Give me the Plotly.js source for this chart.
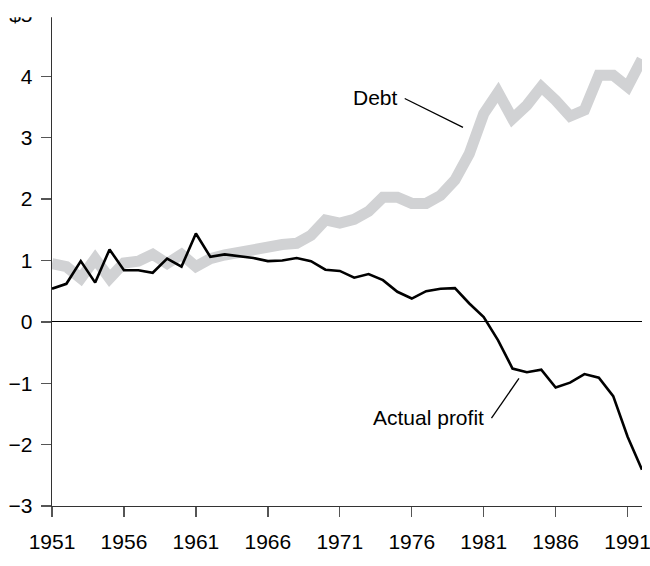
<!DOCTYPE html>
<html>
<head>
<meta charset="utf-8">
<script src="https://cdn.plot.ly/plotly-3.0.1.min.js"></script>
<style>
html, body { margin: 0; padding: 0; background: #ffffff; }
#chart { width: 650px; height: 566px; }
</style>
</head>
<body>
<div id="chart"></div>
<script>
// ---- data ----
var years = [];
for (var yr = 1951; yr <= 1992; yr++) years.push(yr);

var debt = [0.95, 0.90, 0.71, 1.03, 0.71, 0.96, 0.99, 1.10, 0.95, 1.10,
            0.90, 1.03, 1.09, 1.14, 1.17, 1.22, 1.26, 1.28, 1.41, 1.66,
            1.61, 1.67, 1.80, 2.03, 2.03, 1.93, 1.93, 2.06, 2.31, 2.74,
            3.39, 3.74, 3.31, 3.53, 3.83, 3.61, 3.35, 3.45, 4.02, 4.02,
            3.83, 4.28];

var profit = [0.54, 0.62, 0.99, 0.64, 1.18, 0.84, 0.84, 0.80, 1.03, 0.90,
              1.44, 1.06, 1.10, 1.07, 1.04, 0.99, 1.00, 1.04, 0.99, 0.85,
              0.83, 0.72, 0.78, 0.68, 0.49, 0.38, 0.50, 0.54, 0.55, 0.30,
              0.08, -0.30, -0.76, -0.82, -0.78, -1.07, -0.99, -0.85, -0.91, -1.21,
              -1.87, -2.41];

var xTickVals = [1951, 1956, 1961, 1966, 1971, 1976, 1981, 1986, 1991];
var xTickText = ["1951", "1956", "1961", "1966", "1971", "1976", "1981", "1986", "1991"];
var yTickVals = [-3, -2, -1, 0, 1, 2, 3, 4, 5];
var yTickText = ["\u22123", "\u22122", "\u22121", "0", "1", "2", "3", "4", "$5"];

var seriesLabels = ["Debt", "Actual profit"];

// ---- chart ----
var FONT = '"Liberation Sans", Arial, Helvetica, sans-serif';
var FS = 21;

var traces = [
  {
    x: years, y: debt, type: 'scatter', mode: 'lines', name: seriesLabels[0],
    line: { color: 'rgb(209,210,212)', width: 11 },
    hoverinfo: 'skip'
  },
  {
    x: years, y: profit, type: 'scatter', mode: 'lines', name: seriesLabels[1],
    line: { color: '#000000', width: 2.6 },
    hoverinfo: 'skip'
  }
];

var layout = {
  width: 650, height: 566,
  margin: { l: 52, r: 8, t: 15, b: 60, pad: 0 },
  paper_bgcolor: '#ffffff', plot_bgcolor: '#ffffff',
  showlegend: false,
  font: { family: FONT, size: FS, color: '#000000' },
  xaxis: {
    range: [1951, 1992],
    tickvals: xTickVals, ticktext: xTickText,
    ticks: 'outside', ticklen: 10, tickwidth: 1.3, tickcolor: '#555555',
    ticklabelstandoff: 6,
    ticklabeloverflow: 'allow',
    showline: true, linecolor: '#333333', linewidth: 1.3,
    showgrid: false, zeroline: false,
    tickfont: { family: FONT, size: FS, color: '#000000' },
    fixedrange: true
  },
  yaxis: {
    range: [-3, 5],
    tickvals: yTickVals, ticktext: yTickText,
    ticks: 'outside', ticklen: 10, tickwidth: 1.3, tickcolor: '#555555',
    ticklabelstandoff: 4,
    ticklabeloverflow: 'allow',
    showline: true, linecolor: '#333333', linewidth: 1.3,
    showgrid: false,
    zeroline: true, zerolinecolor: '#000000', zerolinewidth: 1,
    tickfont: { family: FONT, size: FS, color: '#000000' },
    fixedrange: true
  },
  annotations: [
    {
      x: 1975.16, y: 3.66, xref: 'x', yref: 'y',
      text: seriesLabels[0], showarrow: false,
      xanchor: 'right', yanchor: 'middle',
      font: { family: FONT, size: FS, color: '#000000' }
    },
    {
      x: 1981.19, y: -1.55, xref: 'x', yref: 'y',
      text: seriesLabels[1], showarrow: false,
      xanchor: 'right', yanchor: 'middle',
      font: { family: FONT, size: FS, color: '#000000' }
    }
  ],
  shapes: [
    { type: 'line', xref: 'x', yref: 'y', x0: 1975.51, y0: 3.64, x1: 1979.56, y1: 3.17,
      line: { color: '#000000', width: 1.3 } },
    { type: 'line', xref: 'x', yref: 'y', x0: 1981.54, y0: -1.57, x1: 1983.45, y1: -0.92,
      line: { color: '#000000', width: 1.3 } },
    { type: 'rect', xref: 'paper', yref: 'paper', x0: -0.2, x1: 1.1, y0: 0.9955, y1: 1.2,
      fillcolor: '#ffffff', line: { width: 0 }, layer: 'above' }
  ]
};

Plotly.newPlot('chart', traces, layout, { displayModeBar: false, staticPlot: true });
</script>
</body>
</html>
